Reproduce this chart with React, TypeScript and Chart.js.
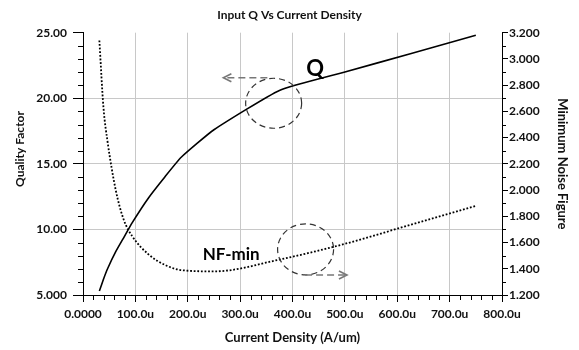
import React, { useEffect, useRef } from 'react';
import { Chart, registerables } from 'chart.js';

Chart.register(...registerables);

// ---- data ----
const currentDensity = [31.25, 39.06, 46.875, 62.5, 78.125, 93.75, 125, 156.25, 187.5, 250, 375, 500, 625, 750];
const qualityFactor = [5.3, 6.2, 7.0, 8.3, 9.4, 10.5, 12.4, 14.0, 15.5, 17.6, 20.6, 22.0, 23.4, 24.8];
const nfMin = [3.14, 2.63, 2.37, 2.0, 1.77, 1.65, 1.51, 1.43, 1.39, 1.38, 1.47, 1.59, 1.735, 1.88];

const xTicks = [0, 100, 200, 300, 400, 500, 600, 700, 800];
const chartTitle = 'Input Q Vs Current Density';
const xTitle = 'Current Density (A/um)';
const yTitle = 'Quality Factor';
const y1Title = 'Minimum Noise Figure';

const FONT = 'Lato';

const decorPlugin = {
  id: 'decor',
  afterDraw(chart: any) {
    const ctx = chart.ctx as CanvasRenderingContext2D;
    const { x, y, y1 } = chart.scales;
    const area = chart.chartArea;
    ctx.save();
    // minor ticks
    ctx.strokeStyle = '#000';
    ctx.lineWidth = 1;
    ctx.setLineDash([]);
    ctx.beginPath();
    for (let v = 20; v < 800; v += 20) {
      if (v % 100 === 0) continue;
      const px = Math.round(x.getPixelForValue(v)) + 0.5;
      ctx.moveTo(px, area.bottom);
      ctx.lineTo(px, area.bottom + 5);
    }
    for (let v = 6; v < 25; v += 1) {
      if (v % 5 === 0) continue;
      const py = Math.round(y.getPixelForValue(v)) + 0.5;
      ctx.moveTo(area.left - 5, py);
      ctx.lineTo(area.left, py);
    }
    for (let k = 13; k < 32; k += 2) {
      const py = Math.round(y1.getPixelForValue(k / 10)) + 0.5;
      ctx.moveTo(area.right, py);
      ctx.lineTo(area.right + 4, py);
    }
    ctx.stroke();

    // left axis title
    ctx.fillStyle = '#111';
    ctx.font = `bold 12px ${FONT}`;
    ctx.textAlign = 'center';
    ctx.textBaseline = 'middle';
    ctx.translate(20, 149);
    ctx.rotate(-Math.PI / 2);
    ctx.fillText(yTitle, 0, 0);
    ctx.restore();

    // annotations
    ctx.save();
    const ellipse = (cx: number, cy: number, rx: number, ry: number) => {
      ctx.beginPath();
      ctx.setLineDash([6, 4]);
      ctx.strokeStyle = '#333';
      ctx.lineWidth = 1.2;
      ctx.ellipse(cx, cy, rx, ry, 0, 0, Math.PI * 2);
      ctx.stroke();
    };
    const arrow = (x0: number, x1: number, yy: number) => {
      ctx.strokeStyle = '#777';
      ctx.lineWidth = 1.6;
      ctx.setLineDash([7, 4]);
      ctx.beginPath();
      ctx.moveTo(x0, yy);
      ctx.lineTo(x1, yy);
      ctx.stroke();
      ctx.setLineDash([]);
      const dir = x1 > x0 ? 1 : -1;
      ctx.beginPath();
      ctx.moveTo(x1 - dir * 8, yy - 4);
      ctx.lineTo(x1, yy);
      ctx.lineTo(x1 - dir * 8, yy + 4);
      ctx.stroke();
    };
    // Q annotation (left axis)
    const e1x = x.getPixelForValue(364);
    const e1y = y.getPixelForValue(19.62);
    ellipse(e1x, e1y, 28, 25);
    arrow(x.getPixelForValue(352), x.getPixelForValue(268), y.getPixelForValue(21.57));
    // NF annotation (right axis)
    const e2x = x.getPixelForValue(425);
    const e2y = y1.getPixelForValue(1.548);
    ellipse(e2x, e2y, 28, 25.5);
    arrow(x.getPixelForValue(424), x.getPixelForValue(504), y1.getPixelForValue(1.353));

    ctx.setLineDash([]);
    ctx.fillStyle = '#000';
    ctx.textAlign = 'center';
    ctx.textBaseline = 'middle';
    ctx.font = `bold 22px ${FONT}`;
    ctx.fillText('Q', x.getPixelForValue(443), y.getPixelForValue(22.23));
    ctx.font = `bold 17px ${FONT}`;
    ctx.fillText('NF-min', x.getPixelForValue(283), y1.getPixelForValue(1.506));
    ctx.restore();
  },
};

export default function App() {
  const canvasRef = useRef<HTMLCanvasElement | null>(null);

  useEffect(() => {
    if (!canvasRef.current) return;
    const tickFont = { family: FONT, size: 12, weight: 'bold' as const };
    const chart = new Chart(canvasRef.current, {
      type: 'line',
      data: {
        datasets: [
          {
            label: 'Q',
            data: currentDensity.map((c, i) => ({ x: c, y: qualityFactor[i] })),
            borderColor: '#000',
            borderWidth: 1.6,
            pointRadius: 0,
            tension: 0.15,
            yAxisID: 'y',
          },
          {
            label: 'NF-min',
            data: currentDensity.map((c, i) => ({ x: c, y: nfMin[i] })),
            borderColor: '#000',
            borderWidth: 1.8,
            borderDash: [1.8, 1.8],
            pointRadius: 0,
            cubicInterpolationMode: 'monotone',
            yAxisID: 'y1',
          },
        ],
      },
      options: {
        animation: false,
        responsive: true,
        maintainAspectRatio: false,
        layout: { padding: 0 },
        plugins: {
          legend: { display: false },
          tooltip: { enabled: false },
          title: {
            display: true,
            text: chartTitle,
            color: '#111',
            font: { family: FONT, size: 12, weight: 'bold' },
            padding: { top: 8, bottom: 10.3 },
          },
        },
        scales: {
          x: {
            type: 'linear',
            min: 0,
            max: 800,
            afterFit: (s: any) => { s.height = 55; },
            afterBuildTicks: (s: any) => { s.ticks = xTicks.map((v) => ({ value: v })); },
            ticks: {
              color: '#111',
              font: tickFont,
              maxRotation: 0,
              autoSkip: false,
              padding: 5,
              callback: (v: any) => (Number(v) === 0 ? '0.0000' : Number(v).toFixed(1) + 'u'),
            },
            grid: {
              color: (c: any) => (c.tick && (c.tick.value === 0 || c.tick.value === 800) ? 'rgba(0,0,0,0)' : '#c8c8c8'),
              tickColor: '#000',
              tickLength: 7,
              lineWidth: 1,
            },
            border: { color: '#000', width: 1 },
            title: {
              display: true,
              text: xTitle,
              color: '#111',
              font: { family: FONT, size: 13, weight: 'bold' },
              padding: { top: 0, bottom: 4.5 },
            },
          },
          y: {
            type: 'linear',
            position: 'left',
            min: 5,
            max: 25,
            afterFit: (s: any) => { s.width = 83; },
            ticks: {
              stepSize: 5,
              color: '#111',
              font: tickFont,
              padding: 6,
              callback: (v: any) => (Number(v) < 10 ? Number(v).toFixed(3) : Number(v).toFixed(2)),
            },
            grid: {
              color: (c: any) => (c.tick && (c.tick.value === 5 || c.tick.value === 25) ? 'rgba(0,0,0,0)' : '#c8c8c8'),
              tickColor: '#000',
              tickLength: 10,
            },
            border: { color: '#000', width: 1 },
          },
          y1: {
            type: 'linear',
            position: 'right',
            min: 1.2,
            max: 3.2,
            afterFit: (s: any) => { s.width = 77; },
            ticks: {
              stepSize: 0.2,
              color: '#111',
              font: tickFont,
              padding: 1,
              callback: (v: any) => Number(v).toFixed(3),
            },
            grid: {
              drawOnChartArea: false,
              tickColor: '#000',
              tickLength: 6,
            },
            border: { color: '#000', width: 1 },
            title: {
              display: true,
              text: y1Title,
              color: '#111',
              font: { family: FONT, size: 13, weight: 'bold' },
              padding: { top: 9, bottom: 0 },
            },
          },
        },
      },
      plugins: [decorPlugin],
    } as any);
    return () => chart.destroy();
  }, []);

  return (
    <div style={{ position: 'fixed', left: 0, top: 0, width: 579, height: 350, background: '#fff' }}>
      <canvas ref={canvasRef} />
    </div>
  );
}
